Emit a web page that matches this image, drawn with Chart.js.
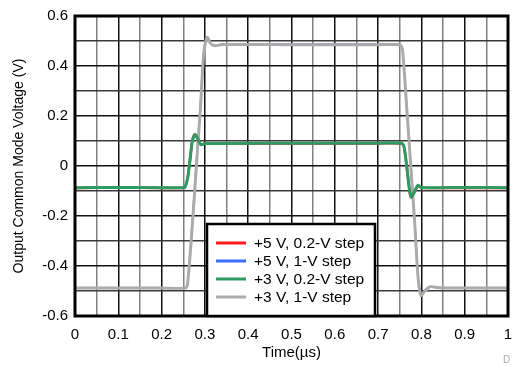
<!DOCTYPE html>
<html>
<head>
<meta charset="utf-8">
<script src="https://cdn.jsdelivr.net/npm/chart.js@4/dist/chart.umd.min.js"></script>
<style>
    body{ margin:0; background:#fff; }
    canvas{ display:block; }
</style>
</head>
<body>
<canvas id="chart" width="513" height="366"></canvas>
<script>
// ===== DATA =====
const seriesLabels = ["+5 V, 0.2-V step", "+5 V, 1-V step", "+3 V, 0.2-V step", "+3 V, 1-V step"];
const seriesColors = ["#ff1a1a", "#3a6cff", "#2f9a62", "#ababab"];

// 0.2-V step (time in µs, volts)
const smallT  = [0, 0.1, 0.2, 0.25, 0.254, 0.26, 0.266, 0.271, 0.277, 0.283, 0.291, 0.3, 0.5, 0.7, 0.754, 0.76, 0.766, 0.772, 0.776, 0.782, 0.792, 0.8, 0.9, 1];
const red5V   = [-0.088, -0.087, -0.088, -0.088, -0.085, -0.05, 0.03, 0.1, 0.127, 0.11, 0.086, 0.09, 0.09, 0.09, 0.09, 0.075, 0.0, -0.09, -0.125, -0.11, -0.08, -0.087, -0.088, -0.088];
const green3V = [-0.087, -0.086, -0.087, -0.087, -0.084, -0.05, 0.03, 0.1, 0.126, 0.11, 0.085, 0.09, 0.091, 0.091, 0.091, 0.075, 0.0, -0.09, -0.124, -0.11, -0.077, -0.086, -0.086, -0.087];

// 1-V step
const largeT  = [0, 0.1, 0.2, 0.255, 0.26, 0.27, 0.28, 0.29, 0.297, 0.305, 0.313, 0.323, 0.34, 0.5, 0.7, 0.75, 0.756, 0.765, 0.775, 0.785, 0.792, 0.799, 0.806, 0.82, 0.84, 0.9, 1];
const blue5V  = [-0.487, -0.488, -0.487, -0.487, -0.47, -0.24, 0.01, 0.26, 0.46, 0.518, 0.49, 0.482, 0.487, 0.487, 0.487, 0.487, 0.47, 0.27, 0.02, -0.23, -0.43, -0.52, -0.5, -0.482, -0.487, -0.487, -0.487];
const gray3V  = [-0.488, -0.488, -0.488, -0.488, -0.47, -0.26, -0.01, 0.24, 0.44, 0.515, 0.49, 0.481, 0.486, 0.485, 0.485, 0.485, 0.47, 0.26, 0.01, -0.24, -0.44, -0.518, -0.505, -0.483, -0.487, -0.488, -0.488];

// ===== HELPERS =====
function toPoints(t, v){
    return t.map((x, i) => ({ x: x, y: v[i] }));
}

function fmt(v){
    return String(Number(v.toFixed(2)));
}

const FONT = "'Liberation Sans', Arial, sans-serif";

// ===== FRAME + LEGEND + MARK =====
const framePlugin = {
    id: "frame",
    afterDraw(chart){
        const ctx = chart.ctx;
        const a = chart.chartArea;

        ctx.save();
        ctx.strokeStyle = "#000";
        ctx.lineWidth = 3;
        ctx.strokeRect(a.left, a.top, a.right - a.left, a.bottom - a.top);

        // legend box
        let bx = 207, by = 224, bw = 168, bh = a.bottom - 224;
        ctx.fillStyle = "#fff";
        ctx.fillRect(bx, by, bw, bh);
        ctx.lineWidth = 2.5;
        ctx.strokeRect(bx, by, bw, bh);

        ctx.font = "15.5px " + FONT;
        ctx.textBaseline = "middle";
        ctx.textAlign = "left";
        seriesLabels.forEach((label, i) => {
            let y = 243 + i * 18;
            ctx.strokeStyle = seriesColors[i];
            ctx.lineWidth = 3;
            ctx.beginPath();
            ctx.moveTo(216, y);
            ctx.lineTo(246, y);
            ctx.stroke();
            ctx.fillStyle = "#000";
            ctx.fillText(label, 254, y + 1);
        });

        ctx.fillStyle = "#aaa";
        ctx.font = "10px " + FONT;
        ctx.fillText("D", 503, 360);
        ctx.restore();
    }
};

// ===== CHART =====
new Chart(document.getElementById("chart"), {
    type: "line",
    data: {
        datasets: [
            { label: seriesLabels[2], data: toPoints(smallT, green3V), borderColor: seriesColors[2], borderWidth: 3 },
            { label: seriesLabels[0], data: toPoints(smallT, red5V), borderColor: seriesColors[0], borderWidth: 2.5 },
            { label: seriesLabels[3], data: toPoints(largeT, gray3V), borderColor: seriesColors[3], borderWidth: 3 },
            { label: seriesLabels[1], data: toPoints(largeT, blue5V), borderColor: seriesColors[1], borderWidth: 1.5 }
        ]
    },
    options: {
        responsive: false,
        animation: false,
        elements: {
            point: { radius: 0 },
            line: { tension: 0.25, fill: false }
        },
        layout: { padding: { top: 10, right: 0, left: 0, bottom: 0 } },
        plugins: {
            legend: { display: false },
            tooltip: { enabled: false }
        },
        scales: {
            x: {
                type: "linear",
                min: 0,
                max: 1,
                afterFit(s){ s.height = 50; s.paddingRight = 5; },
                afterBuildTicks(s){
                    s.ticks = [];
                    for(let i = 0; i <= 20; i++) s.ticks.push({ value: i / 20 });
                },
                ticks: {
                    autoSkip: false,
                    maxRotation: 0,
                    padding: 10,
                    color: "#000",
                    font: { family: FONT, size: 15 },
                    callback: (v, i) => i % 2 === 0 ? fmt(v) : ""
                },
                grid: {
                    drawTicks: false,
                    color: c => c.index % 2 === 0 ? "#111" : "#808080",
                    lineWidth: 1.5
                },
                border: { display: false },
                title: {
                    display: true,
                    text: "Time(µs)",
                    color: "#000",
                    padding: { top: 0, bottom: 4 },
                    font: { family: FONT, size: 15 }
                }
            },
            y: {
                min: -0.6,
                max: 0.6,
                afterFit(s){ s.width = 75; },
                afterBuildTicks(s){
                    s.ticks = [];
                    for(let i = -6; i <= 6; i++) s.ticks.push({ value: i / 10 });
                },
                ticks: {
                    autoSkip: false,
                    padding: 7,
                    color: "#000",
                    font: { family: FONT, size: 15 },
                    callback: (v, i) => i % 2 === 0 ? fmt(v) : ""
                },
                grid: {
                    drawTicks: false,
                    color: c => c.index % 2 === 0 ? "#111" : "#3a3a3a",
                    lineWidth: 1.5
                },
                border: { display: false },
                title: {
                    display: true,
                    text: "Output Common Mode Voltage (V)",
                    color: "#000",
                    padding: { top: 11, bottom: 0 },
                    font: { family: FONT, size: 14 }
                }
            }
        }
    },
    plugins: [framePlugin]
});
</script>
</body>
</html>
